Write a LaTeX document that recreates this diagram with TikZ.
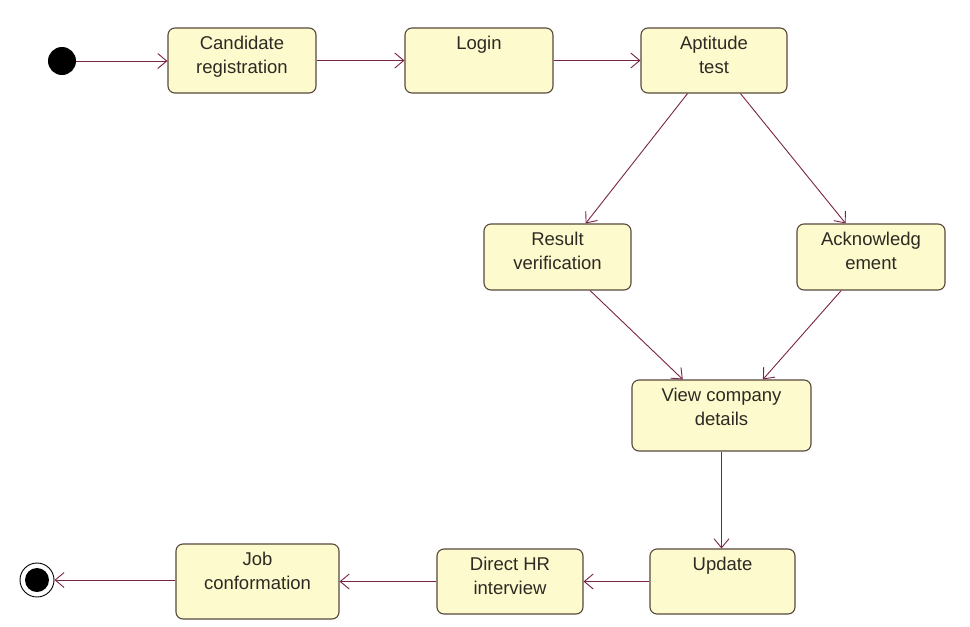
\documentclass[tikz,border=0pt]{standalone}
\usepackage{fontspec}
\setmainfont{Liberation Sans}
\usetikzlibrary{arrows.meta,calc}
\definecolor{boxfill}{RGB}{253,251,206}
\definecolor{boxline}{RGB}{88,72,60}
\definecolor{arrowc}{RGB}{122,36,68}
\definecolor{txt}{RGB}{45,42,35}
\begin{document}
\begin{tikzpicture}[x=1pt,y=-1pt,
  box/.style={draw=boxline, fill=boxfill, rounded corners=7pt, line width=1.1pt, inner sep=0pt},
  lbl/.style={anchor=north, align=center, inner sep=0pt, text=txt, font=\fontsize{18.5}{24}\selectfont, yshift=-8pt},
  flow/.style={draw=arrowc, line width=0.9pt, -{Straight Barb[length=9pt,width=15pt,line width=0.9pt]}},
  startdot/.style={circle, fill=black, minimum size=28pt, inner sep=0pt},
  enddot/.style={circle, fill=black, minimum size=24pt, inner sep=0pt},
  endring/.style={circle, draw=black, line width=0.9pt, minimum size=34pt, inner sep=0pt}]
\useasboundingbox (0,0) rectangle (970,627);
\fill[white] (0,0) rectangle (970,627);

\node[startdot] (start) at (62,61) {};
\node[endring] (endr) at (37,580) {};
\node[enddot] (endd) at (37,580) {};

\node[box, minimum width=148pt, minimum height=65pt] (cand) at (242,60.5) {};
\node[lbl] (candt) at (cand.north) {Candidate\\registration};
\node[box, minimum width=148pt, minimum height=65pt] (login) at (479,60.5) {};
\node[lbl] (logint) at (login.north) {Login};
\node[box, minimum width=146pt, minimum height=65pt] (apt) at (714,60.5) {};
\node[lbl] (aptt) at (apt.north) {Aptitude\\test};
\node[box, minimum width=147pt, minimum height=66pt] (res) at (557.5,257) {};
\node[lbl] (rest) at (res.north) {Result\\verification};
\node[box, minimum width=148pt, minimum height=66pt] (ack) at (871,257) {};
\node[lbl] (ackt) at (ack.north) {Acknowledg\\ement};
\node[box, minimum width=179pt, minimum height=71pt] (view) at (721.5,415.5) {};
\node[lbl] (viewt) at (view.north) {View company\\details};
\node[box, minimum width=145pt, minimum height=65pt] (upd) at (722.5,581.5) {};
\node[lbl] (updt) at (upd.north) {Update};
\node[box, minimum width=146pt, minimum height=65pt] (hr) at (510,581.5) {};
\node[lbl] (hrt) at (hr.north) {Direct HR\\interview};
\node[box, minimum width=163pt, minimum height=75pt] (job) at (257.5,581.5) {};
\node[lbl] (jobt) at (job.north) {Job\\conformation};

\draw[flow] (start.east) -- (start.east -| cand.west);
\draw[flow] (cand.east) -- (login.west);
\draw[flow] (login.east) -- (apt.west);
\draw[flow] ($(apt.south west)!0.32!(apt.south east)$) -- ($(res.north west)!0.69!(res.north east)$);
\draw[flow] ($(apt.south west)!0.68!(apt.south east)$) -- ($(ack.north west)!0.33!(ack.north east)$);
\draw[flow] ($(res.south west)!0.72!(res.south east)$) -- ($(view.north west)!0.285!(view.north east)$);
\draw[flow] ($(ack.south west)!0.30!(ack.south east)$) -- ($(view.north west)!0.73!(view.north east)$);
\draw[flow] (view.south) -- (view.south |- upd.north);
\draw[flow] (upd.west) -- (hr.east);
\draw[flow] (hr.west) -- (job.west -| job.east);
\draw[flow] (endr.east -| job.west) -- (endr.east);
\end{tikzpicture}
\end{document}
